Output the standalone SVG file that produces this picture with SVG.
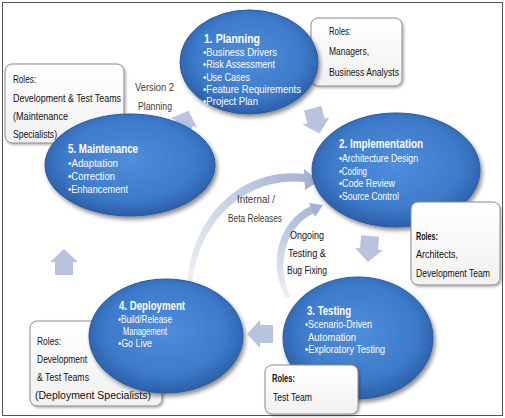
<svg xmlns="http://www.w3.org/2000/svg" xmlns:xlink="http://www.w3.org/1999/xlink" width="505" height="418" viewBox="0 0 505 418">
<defs>
<style>
text{font-family:"Liberation Sans Narrow","Liberation Sans",Arial,sans-serif;}
.wt{fill:#fff;font-size:11px;}
.wh{fill:#fff;font-size:13px;font-weight:bold;}
.bk{fill:#111;font-size:10.5px;}
.bkb{fill:#111;font-size:10.5px;font-weight:bold;}
.gr{fill:#3a3a3a;font-size:10.5px;}
.ell{fill:url(#eg);stroke:#2a5a9c;stroke-width:1;filter:url(#sh);}
.box{fill:url(#bg);stroke:#8a8a8a;stroke-width:1;filter:url(#sh2);}
.blk{fill:#b8c3de;}
</style>
<radialGradient id="eg" cx="0.5" cy="0.45" r="0.55">
<stop offset="0" stop-color="#4f8edb"/>
<stop offset="0.7" stop-color="#3d7bcb"/>
<stop offset="1" stop-color="#2b5fa8"/>
</radialGradient>
<linearGradient id="bg" x1="0" y1="0" x2="0" y2="1">
<stop offset="0" stop-color="#ffffff"/>
<stop offset="1" stop-color="#f1f1f1"/>
</linearGradient>
<linearGradient id="ag1" gradientUnits="userSpaceOnUse" x1="190" y1="283" x2="318" y2="183">
<stop offset="0" stop-color="#eef0f6"/>
<stop offset="1" stop-color="#a4b2d4"/>
</linearGradient>
<linearGradient id="ag2" gradientUnits="userSpaceOnUse" x1="288" y1="298" x2="322" y2="206">
<stop offset="0" stop-color="#eef0f6"/>
<stop offset="1" stop-color="#a4b2d4"/>
</linearGradient>
<filter id="sh" x="-20%" y="-20%" width="140%" height="150%">
<feDropShadow dx="2" dy="3" stdDeviation="2" flood-color="#000" flood-opacity="0.45"/>
</filter>
<filter id="sh2" x="-20%" y="-20%" width="140%" height="150%">
<feDropShadow dx="1.5" dy="1.5" stdDeviation="1" flood-color="#000" flood-opacity="0.3"/>
</filter>
<path id="blkarrow" d="M-13,-9 L0,-9 L0,-14 L13,0 L0,14 L0,9 L-13,9 Z"/>
</defs>
<rect x="0" y="0" width="505" height="418" fill="#fff"/>
<rect x="2.5" y="2.5" width="500" height="413" fill="none" stroke="#555" stroke-width="1"/>

<g id="connectors">
<use xlink:href="#blkarrow" class="blk" transform="translate(184,123) rotate(-70)"/>
<use xlink:href="#blkarrow" class="blk" transform="translate(316,121) rotate(75)"/>
<use xlink:href="#blkarrow" class="blk" transform="translate(369,249) rotate(95)"/>
<use xlink:href="#blkarrow" class="blk" transform="translate(260,334) rotate(180)"/>
<use xlink:href="#blkarrow" class="blk" transform="translate(64,262) rotate(-90)"/>
<path d="M187,285 C191,218 240,166 306,174 L306,182 C242,176 198,224 192,285 Z" fill="url(#ag1)"/>
<polygon points="304,169 319,181 305,190" fill="#a4b2d4"/>
<path d="M286,298 C268,268 276,222 311,206 L314,213 C283,228 276,268 291,297 Z" fill="url(#ag2)"/>
<polygon points="309,203 323,205 315,217" fill="#a4b2d4"/>
<text class="gr" x="237" y="203" textLength="38" lengthAdjust="spacingAndGlyphs">Internal /</text>
<text class="gr" x="228" y="222" textLength="54" lengthAdjust="spacingAndGlyphs">Beta Releases</text>
<text class="bk" x="290" y="239" textLength="34" lengthAdjust="spacingAndGlyphs">Ongoing</text>
<text class="bk" x="288" y="257" textLength="38" lengthAdjust="spacingAndGlyphs">Testing &amp;</text>
<text class="bk" x="287" y="274" textLength="40" lengthAdjust="spacingAndGlyphs">Bug Fixing</text>
<text class="gr" x="135" y="91" textLength="39" lengthAdjust="spacingAndGlyphs">Version 2</text>
<text class="gr" x="138" y="110" textLength="34" lengthAdjust="spacingAndGlyphs">Planning</text>
</g>

<g id="roles-planning">
<rect class="box" x="311" y="18" width="91" height="68" rx="7"/>
<text class="bk" x="329" y="35" textLength="22" lengthAdjust="spacingAndGlyphs">Roles:</text>
<text class="bk" x="329" y="55" textLength="40" lengthAdjust="spacingAndGlyphs">Managers,</text>
<text class="bk" x="329" y="76" textLength="70" lengthAdjust="spacingAndGlyphs">Business Analysts</text>
</g>
<g id="roles-maintenance">
<rect class="box" x="5" y="64" width="119" height="79" rx="7"/>
<text class="bk" x="13" y="83" textLength="23" lengthAdjust="spacingAndGlyphs">Roles:</text>
<text class="bk" x="13" y="102" textLength="108" lengthAdjust="spacingAndGlyphs">Development &amp; Test Teams</text>
<text class="bk" x="13" y="120" textLength="55" lengthAdjust="spacingAndGlyphs">(Maintenance</text>
<text class="bk" x="13" y="138" textLength="44" lengthAdjust="spacingAndGlyphs">Specialists)</text>
</g>
<g id="roles-deployment">
<rect class="box" x="30" y="321" width="132" height="85" rx="7"/>
<text class="bk" x="37" y="345" textLength="24" lengthAdjust="spacingAndGlyphs">Roles:</text>
<text class="bk" x="37" y="363" textLength="50" lengthAdjust="spacingAndGlyphs">Development</text>
<text class="bk" x="37" y="381" textLength="52" lengthAdjust="spacingAndGlyphs">&amp; Test Teams</text>
<text class="bk" x="35" y="399" textLength="116" lengthAdjust="spacingAndGlyphs">(Deployment Specialists)</text>
</g>

<g id="planning">
<ellipse class="ell" cx="249" cy="62" rx="69" ry="52"/>
<text class="wh" x="204" y="43" textLength="56" lengthAdjust="spacingAndGlyphs">1. Planning</text>
<text class="wt" x="203" y="56" textLength="74" lengthAdjust="spacingAndGlyphs">•Business Drivers</text>
<text class="wt" x="203" y="68" textLength="72" lengthAdjust="spacingAndGlyphs">•Risk Assessment</text>
<text class="wt" x="203" y="81" textLength="47" lengthAdjust="spacingAndGlyphs">•Use Cases</text>
<text class="wt" x="203" y="93" textLength="98" lengthAdjust="spacingAndGlyphs">•Feature Requirements</text>
<text class="wt" x="203" y="105" textLength="55" lengthAdjust="spacingAndGlyphs">•Project Plan</text>
</g>
<g id="maintenance">
<ellipse class="ell" cx="130" cy="165" rx="85" ry="51"/>
<text class="wh" x="68" y="153" textLength="70" lengthAdjust="spacingAndGlyphs">5. Maintenance</text>
<text class="wt" x="68" y="167" textLength="50" lengthAdjust="spacingAndGlyphs">•Adaptation</text>
<text class="wt" x="68" y="180" textLength="47" lengthAdjust="spacingAndGlyphs">•Correction</text>
<text class="wt" x="68" y="193" textLength="60" lengthAdjust="spacingAndGlyphs">•Enhancement</text>
</g>
<g id="implementation">
<ellipse class="ell" cx="396" cy="170" rx="84" ry="57"/>
<text class="wh" x="339" y="148" textLength="84" lengthAdjust="spacingAndGlyphs">2. Implementation</text>
<text class="wt" x="339" y="162" textLength="79" lengthAdjust="spacingAndGlyphs">•Architecture Design</text>
<text class="wt" x="339" y="175" textLength="28" lengthAdjust="spacingAndGlyphs">•Coding</text>
<text class="wt" x="339" y="187" textLength="56" lengthAdjust="spacingAndGlyphs">•Code Review</text>
<text class="wt" x="339" y="200" textLength="60" lengthAdjust="spacingAndGlyphs">•Source Control</text>
</g>
<g id="testing">
<ellipse class="ell" cx="358" cy="338" rx="75" ry="61"/>
<text class="wh" x="307" y="315" textLength="44" lengthAdjust="spacingAndGlyphs">3. Testing</text>
<text class="wt" x="305" y="328" textLength="67" lengthAdjust="spacingAndGlyphs">•Scenario-Driven</text>
<text class="wt" x="308" y="341" textLength="48" lengthAdjust="spacingAndGlyphs">Automation</text>
<text class="wt" x="305" y="353" textLength="80" lengthAdjust="spacingAndGlyphs">•Exploratory Testing</text>
</g>
<g id="deployment">
<ellipse class="ell" cx="166" cy="336" rx="77" ry="57"/>
<text class="wh" x="119" y="310" textLength="66" lengthAdjust="spacingAndGlyphs">4. Deployment</text>
<text class="wt" x="118" y="323" textLength="54" lengthAdjust="spacingAndGlyphs">•Build/Release</text>
<text class="wt" x="123" y="335" textLength="44" lengthAdjust="spacingAndGlyphs">Management</text>
<text class="wt" x="118" y="347" textLength="34" lengthAdjust="spacingAndGlyphs">•Go Live</text>
</g>
<g id="roles-implementation">
<rect class="box" x="411" y="202" width="89" height="83" rx="7"/>
<text class="bkb" x="416" y="240" textLength="22" lengthAdjust="spacingAndGlyphs">Roles:</text>
<text class="bk" x="416" y="258" textLength="42" lengthAdjust="spacingAndGlyphs">Architects,</text>
<text class="bk" x="416" y="277" textLength="74" lengthAdjust="spacingAndGlyphs">Development Team</text>
</g>
<g id="roles-testing">
<rect class="box" x="265" y="365" width="93" height="49" rx="7"/>
<text class="bkb" x="272" y="382" textLength="23" lengthAdjust="spacingAndGlyphs">Roles:</text>
<text class="bk" x="273" y="401" textLength="39" lengthAdjust="spacingAndGlyphs">Test Team</text>
</g>
</svg>
